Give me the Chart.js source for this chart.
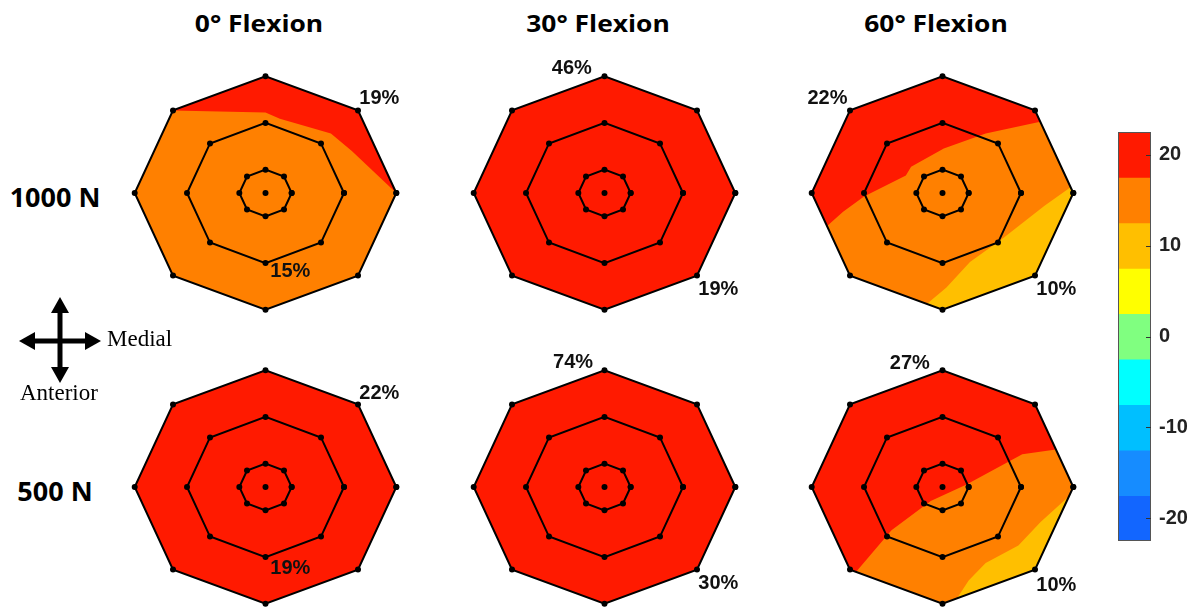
<!DOCTYPE html>
<html>
<head>
<meta charset="utf-8">
<script src="https://cdn.jsdelivr.net/npm/chart.js@4.4.1/dist/chart.umd.min.js"></script>
<style>
  html, body { margin: 0; padding: 0; background: #fff; width: 1199px; height: 610px; overflow: hidden; position: relative; }
  canvas { position: absolute; }
  .txt { position: absolute; white-space: nowrap; color: #000; }
  .title { font: 700 24px 'Open Sans', sans-serif; transform: translate(-50%, -50%) scaleX(1.1); }
  .load { font: 700 27px 'Open Sans', sans-serif; transform: translate(-50%, -50%); }
  .dir { font: 400 23px 'Liberation Serif', 'Times New Roman', serif; }
</style>
</head>
<body>
<div id="root"></div>
<svg style="position:absolute;left:0;top:280px" width="120" height="120">
  <line x1="60" y1="30" x2="60" y2="92" stroke="#000" stroke-width="5"/>
  <line x1="32" y1="61" x2="88" y2="61" stroke="#000" stroke-width="5"/>
  <polygon points="60,17 51,33 69,33" fill="#000"/>
  <polygon points="60,103 51,87 69,87" fill="#000"/>
  <polygon points="19,61 35,52 35,70" fill="#000"/>
  <polygon points="101,61 85,52 85,70" fill="#000"/>
</svg>
<div class="txt dir" style="left:107px;top:326px;">Medial</div>
<div class="txt dir" style="left:20px;top:380px;">Anterior</div>
<script>
// ---- data ----
const flexionTitles = ['0° Flexion', '30° Flexion', '60° Flexion'];
const loadLabels = ['1000 N', '500 N'];

// colour bands of the scale (centre value of each 5-unit band, top to bottom)
const bandValues = [20, 15, 10, 5, 0, -5, -10, -15, -20];
const bandColors = ['#ff1a00', '#ff8000', '#ffbf00', '#ffff00', '#80ff80', '#00ffff', '#00bfff', '#168cff', '#1266ff'];
const colorbarTicks = [20, 10, 0, -10, -20];

// radii of the three octagonal node rings (normalised)
const ringRadii = [0.2, 0.6, 1.0];

// background band of each map: 1000 N (0°, 30°, 60°), then 500 N (0°, 30°, 60°)
const baseBand = [15, 20, 15, 20, 20, 20];

// contour patches drawn over the background: band value + outline (normalised x, y)
const patches1000N0 = [
  { band: 20, outline: [[-0.707, 0.707], [0, 1], [0.707, 0.707], [1, 0], [0.66, 0.36], [0.5, 0.51], [0.11, 0.635], [0, 0.69]] }
];
const patches1000N30 = [];
const patches1000N60 = [
  { band: 20, outline: [[-0.88, -0.28], [-1, 0], [-0.707, 0.707], [0, 1], [0.707, 0.707], [0.747, 0.61], [0.33, 0.51], [0.01, 0.38], [-0.24, 0.225], [-0.28, 0.15], [-0.6, -0.03], [-0.76, -0.16]] },
  { band: 10, outline: [[0.979, 0.05], [1, 0], [0.707, -0.707], [0, -1], [-0.12, -0.95], [0.03, -0.81], [0.21, -0.59], [0.46, -0.39], [0.78, -0.11]] }
];
const patches500N0 = [];
const patches500N30 = [];
const patches500N60 = [
  { band: 15, outline: [[-0.66, -0.726], [-0.39, -0.37], [-0.09, -0.12], [0.18, 0.02], [0.61, 0.28], [0.867, 0.32], [1, 0], [0.707, -0.707], [0, -1]] },
  { band: 10, outline: [[0.967, -0.08], [0.75, -0.3], [0.58, -0.5], [0.33, -0.65], [0.2, -0.8], [0.11, -0.954], [0.707, -0.707]] }
];

// percentage annotations of each map
const pct1000N0 = ['19%', '15%'];
const pct1000N30 = ['46%', '19%'];
const pct1000N60 = ['22%', '10%'];
const pct500N0 = ['22%', '19%'];
const pct500N30 = ['74%', '30%'];
const pct500N60 = ['27%', '10%'];

// ---- layout ----
const mapCentresX = [265, 604, 942];
const mapCentresY = [193, 487];
const unitX = 134, unitY = 120, span = 1.25;
const pctAnchors = [
  [[0.87, 0.81], [0.19, -0.67]],
  [[-0.25, 1.07], [0.87, -0.83]],
  [[-0.88, 0.81], [0.87, -0.83]],
  [[0.87, 0.80], [0.19, -0.70]],
  [[-0.24, 1.07], [0.87, -0.83]],
  [[-0.25, 1.06], [0.87, -0.84]]
];

const maps = [
  { patches: patches1000N0, pct: pct1000N0 },
  { patches: patches1000N30, pct: pct1000N30 },
  { patches: patches1000N60, pct: pct1000N60 },
  { patches: patches500N0, pct: pct500N0 },
  { patches: patches500N30, pct: pct500N30 },
  { patches: patches500N60, pct: pct500N60 }
];

const root = document.getElementById('root');
const colorOf = v => bandColors[bandValues.indexOf(v)];
const octagon = r => {
  const pts = [];
  for (let k = 0; k <= 8; k++) {
    const a = (k % 8) * Math.PI / 4;
    pts.push({ x: +(r * Math.cos(a)).toFixed(4), y: +(r * Math.sin(a)).toFixed(4) });
  }
  return pts;
};
const toXY = outline => outline.concat([outline[0]]).map(([x, y]) => ({ x, y }));

// headings
flexionTitles.forEach((t, i) => {
  const d = document.createElement('div');
  d.className = 'txt title';
  d.textContent = t;
  d.style.left = (mapCentresX[i] - 6) + 'px';
  d.style.top = '22px';
  root.appendChild(d);
});
loadLabels.forEach((t, i) => {
  const d = document.createElement('div');
  d.className = 'txt load';
  d.textContent = t;
  d.style.left = '55px';
  d.style.top = (mapCentresY[i] + 3) + 'px';
  root.appendChild(d);
});

function makeLabelPlugin(items) {
  return {
    id: 'pctLabels',
    afterDatasetsDraw(chart) {
      const { ctx, scales: { x, y } } = chart;
      ctx.save();
      ctx.font = "bold 20px 'Liberation Sans', Arial, sans-serif";
      ctx.fillStyle = '#111';
      ctx.textAlign = 'center';
      ctx.textBaseline = 'middle';
      items.forEach(it => ctx.fillText(it.text, x.getPixelForValue(it.at[0]), y.getPixelForValue(it.at[1])));
      ctx.restore();
    }
  };
}

maps.forEach((m, i) => {
  const col = i % 3, row = Math.floor(i / 3);
  const w = Math.round(2 * span * unitX), h = Math.round(2 * span * unitY);
  const cv = document.createElement('canvas');
  cv.width = w; cv.height = h;
  cv.style.left = (mapCentresX[col] - w / 2) + 'px';
  cv.style.top = (mapCentresY[row] - h / 2) + 'px';
  root.appendChild(cv);

  const datasets = [];
  datasets.push({
    data: octagon(1), order: 100, fill: 'shape', backgroundColor: colorOf(baseBand[i]),
    borderWidth: 0, borderColor: 'transparent', pointRadius: 0
  });
  m.patches.forEach((p, j) => datasets.push({
    data: toXY(p.outline), order: 90 - j, fill: 'shape', backgroundColor: colorOf(p.band),
    borderWidth: 0, borderColor: 'transparent', pointRadius: 0
  }));
  ringRadii.forEach(r => datasets.push({
    data: octagon(r), order: 2, fill: false, borderColor: '#000', borderWidth: 2,
    pointRadius: 3, pointBackgroundColor: '#000', pointBorderWidth: 0
  }));
  datasets.push({
    data: [{ x: 0, y: 0 }], order: 1, showLine: false, fill: false,
    pointRadius: 3, pointBackgroundColor: '#000', pointBorderWidth: 0
  });

  const items = m.pct.map((t, k) => ({ text: t, at: pctAnchors[i][k] }));
  new Chart(cv, {
    type: 'line',
    data: { datasets },
    options: {
      responsive: false, animation: false, events: [], devicePixelRatio: 1,
      layout: { padding: 0 },
      elements: { line: { tension: 0 } },
      plugins: { legend: { display: false }, tooltip: { enabled: false } },
      scales: {
        x: { type: 'linear', display: false, min: -span, max: span },
        y: { type: 'linear', display: false, min: -span, max: span }
      }
    },
    plugins: [makeLabelPlugin(items)]
  });
});

// colour scale
const cb = document.createElement('canvas');
cb.width = 83; cb.height = 433;
cb.style.left = '1118px'; cb.style.top = '120px';
root.appendChild(cb);
const frameAndTicks = {
  id: 'frameAndTicks',
  afterDatasetsDraw(chart) {
    const { ctx, chartArea: a, scales: { y } } = chart;
    ctx.save();
    ctx.strokeStyle = '#555';
    ctx.lineWidth = 1;
    ctx.strokeRect(a.left + 0.5, a.top + 0.5, a.right - a.left - 1, a.bottom - a.top - 1);
    ctx.strokeStyle = '#333';
    colorbarTicks.forEach(v => {
      const py = Math.round(y.getPixelForValue(v)) + 0.5;
      ctx.beginPath(); ctx.moveTo(a.right - 5, py); ctx.lineTo(a.right, py); ctx.stroke();
    });
    ctx.restore();
  }
};
new Chart(cb, {
  type: 'bar',
  data: {
    labels: [''],
    datasets: bandValues.map((v, i) => ({
      data: [[v - 2.5, v + 2.5]], backgroundColor: bandColors[i], borderWidth: 0,
      barPercentage: 1, categoryPercentage: 1, grouped: false
    }))
  },
  options: {
    responsive: false, animation: false, events: [], devicePixelRatio: 1,
    layout: { padding: 0 },
    plugins: { legend: { display: false }, tooltip: { enabled: false } },
    scales: {
      x: { display: false },
      y: {
        position: 'right', min: -22.5, max: 22.5,
        afterBuildTicks: s => { s.ticks = colorbarTicks.map(v => ({ value: v })); },
        afterFit: s => { s.width = 50; },
        grid: { display: false }, border: { display: false },
        ticks: { color: '#222', padding: 0, font: { family: "'Liberation Sans', Arial, sans-serif", size: 20, weight: 'bold' } }
      }
    }
  },
  plugins: [frameAndTicks]
});
</script>
</body>
</html>
